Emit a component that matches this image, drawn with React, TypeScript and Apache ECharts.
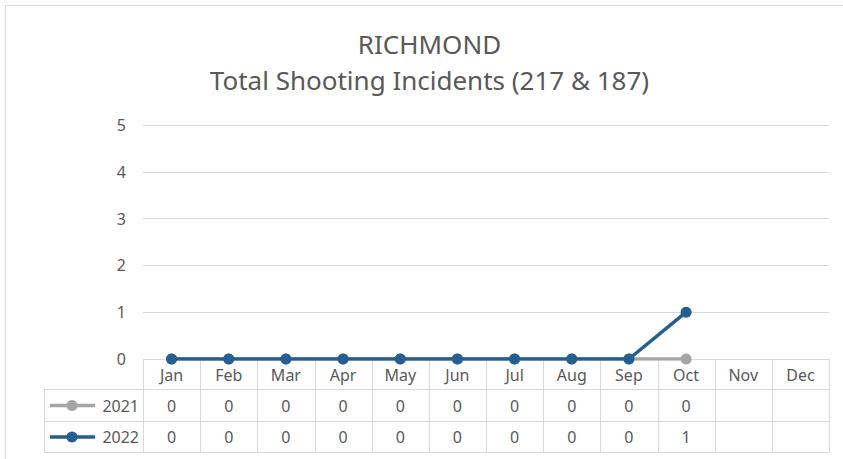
import React, { useEffect, useRef } from "react";
import * as echarts from "echarts";

const months = ["Jan", "Feb", "Mar", "Apr", "May", "Jun", "Jul", "Aug", "Sep", "Oct", "Nov", "Dec"];
const seriesNames = ["2021", "2022"];
const values2021 = [0, 0, 0, 0, 0, 0, 0, 0, 0, 0];
const values2022 = [0, 0, 0, 0, 0, 0, 0, 0, 0, 1];
const seriesColors = ["#A5A5A5", "#255E91"];
const titleLines = ["RICHMOND", "Total Shooting Incidents (217 & 187)"];

const W = 843;
const H = 459;
const gridLeft = 143;
const gridRight = 829;
const gridTop = 125;
const axisY = 359;
const tableLeft = 44;
const rowBottoms = [389, 421, 452];
const FONT = "'Noto Sans', sans-serif";
const TEXT = "#595959";
const LINE = "#D9D9D9";

export default function App() {
  const ref = useRef<HTMLDivElement>(null);
  useEffect(() => {
    document.body.style.margin = "0";
    const chart = echarts.init(ref.current!, null, { renderer: "svg" });
    const catW = (gridRight - gridLeft) / months.length;
    const allValues = [values2021, values2022];
    const graphic: any[] = [];
    // outer border (left & top)
    graphic.push({
      type: "polyline",
      silent: true,
      shape: { points: [[5.5, H], [5.5, 5.5], [W, 5.5]] },
      style: { stroke: LINE, fill: null, lineWidth: 1 },
    });
    // table horizontal lines
    rowBottoms.forEach((y) => {
      graphic.push({
        type: "line",
        silent: true,
        shape: { x1: tableLeft, y1: y + 0.5, x2: gridRight, y2: y + 0.5 },
        style: { stroke: LINE, lineWidth: 1 },
      });
    });
    // left table border
    graphic.push({
      type: "line",
      silent: true,
      shape: { x1: tableLeft + 0.5, y1: rowBottoms[0], x2: tableLeft + 0.5, y2: rowBottoms[2] + 0.5 },
      style: { stroke: LINE, lineWidth: 1 },
    });
    // vertical category lines
    for (let i = 0; i <= months.length; i++) {
      const x = Math.round(gridLeft + i * catW) + 0.5;
      graphic.push({
        type: "line",
        silent: true,
        shape: { x1: x, y1: axisY, x2: x, y2: rowBottoms[2] + 0.5 },
        style: { stroke: LINE, lineWidth: 1 },
      });
    }
    // rows
    seriesNames.forEach((name, r) => {
      const cy = (rowBottoms[r] + rowBottoms[r + 1]) / 2 + 0.5;
      graphic.push({
        type: "line",
        silent: true,
        shape: { x1: 50, y1: cy, x2: 95, y2: cy },
        style: { stroke: seriesColors[r], lineWidth: 3.5 },
      });
      graphic.push({
        type: "circle",
        silent: true,
        shape: { cx: 72, cy, r: 5.5 },
        style: { fill: seriesColors[r] },
      });
      graphic.push({
        type: "text",
        silent: true,
        x: 139,
        y: cy,
        style: { text: name, fill: TEXT, font: `16px ${FONT}`, align: "right", verticalAlign: "middle" },
      });
      allValues[r].forEach((v, i) => {
        graphic.push({
          type: "text",
          silent: true,
          x: gridLeft + (i + 0.5) * catW,
          y: cy,
          style: { text: String(v), fill: TEXT, font: `16px ${FONT}`, align: "center", verticalAlign: "middle" },
        });
      });
    });
    // title
    titleLines.forEach((t, i) => {
      graphic.push({
        type: "text",
        silent: true,
        x: W / 2 + 8,
        y: 44 + i * 36,
        style: { text: t, fill: TEXT, font: `26px ${FONT}`, align: "center", verticalAlign: "middle" },
      });
    });

    chart.setOption({
      animation: false,
      backgroundColor: "#FFFFFF",
      grid: { left: gridLeft, right: W - gridRight, top: gridTop, bottom: H - axisY, containLabel: false },
      xAxis: {
        type: "category",
        data: months,
        boundaryGap: true,
        axisLine: { show: true, lineStyle: { color: LINE, width: 1 } },
        axisTick: { show: false },
        axisLabel: { color: TEXT, fontFamily: FONT, fontSize: 16, margin: 8 },
        splitLine: { show: false },
      },
      yAxis: {
        type: "value",
        min: 0,
        max: 5,
        interval: 1,
        axisLine: { show: false },
        axisTick: { show: false },
        axisLabel: { color: TEXT, fontFamily: FONT, fontSize: 16, margin: 17 },
        splitLine: { lineStyle: { color: LINE, width: 1 } },
      },
      series: seriesNames.map((name, r) => ({
        name,
        type: "line",
        data: allValues[r],
        symbol: "circle",
        symbolSize: 11,
        showSymbol: true,
        lineStyle: { color: seriesColors[r], width: 3.5 },
        itemStyle: { color: seriesColors[r] },
        z: 2 + r,
      })),
      graphic,
    });
    return () => chart.dispose();
  }, []);
  return <div ref={ref} style={{ width: W, height: H }} />;
}
